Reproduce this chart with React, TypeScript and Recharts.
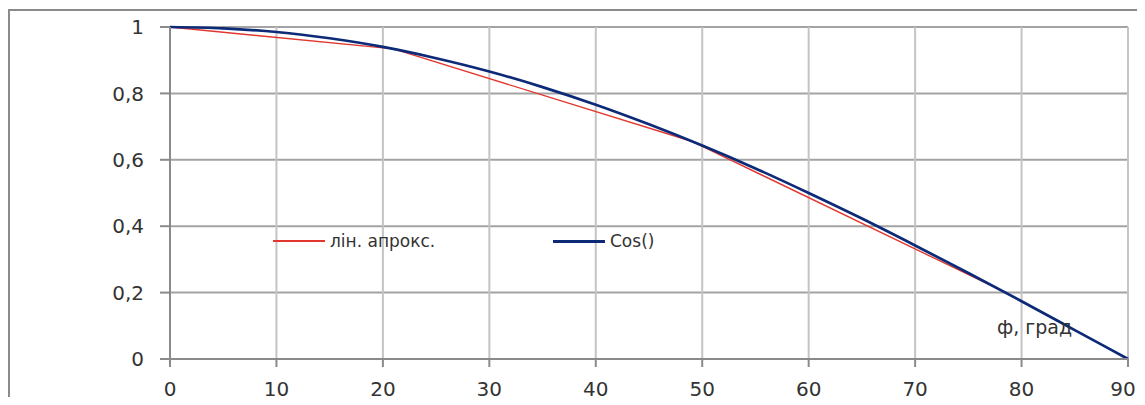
import { LineChart, Line, XAxis, YAxis, CartesianGrid, Legend } from "recharts"

// cos() read every 5 degrees
const angles = [0, 5, 10, 15, 20, 25, 30, 35, 40, 45, 50, 55, 60, 65, 70, 75, 80, 85, 90]
const cosValues = [
  1, 0.996, 0.985, 0.966, 0.94, 0.906, 0.866, 0.819, 0.766, 0.707, 0.643, 0.574, 0.5, 0.423, 0.342,
  0.259, 0.174, 0.087, 0,
]

// piecewise linear approximation nodes
const approxAngles = [0, 21, 49, 78, 90]
const approxValues = [1, 0.934, 0.656, 0.208, 0]

const xTicks = [0, 10, 20, 30, 40, 50, 60, 70, 80, 90]
const yTicks = [0, 0.2, 0.4, 0.6, 0.8, 1]

const SERIES = [
  { key: "approx", label: "лін. апрокс.", color: "#e2372e", width: 1.4 },
  { key: "cos", label: "Cos()", color: "#0c2a78", width: 2.7 },
] as const

const cosData = angles.map((a, i) => ({ x: a, y: cosValues[i] }))
const approxData = approxAngles.map((a, i) => ({ x: a, y: approxValues[i] }))

const FONT = "'DejaVu Sans', sans-serif"
const TEXT = "#333"

function LegendBox() {
  return (
    <div style={{ position: "relative", width: 420, height: 20, fontFamily: FONT, fontSize: 17, color: TEXT }}>
      {SERIES.map((s, i) => (
        <div
          key={s.key}
          style={{ position: "absolute", left: i * 280, top: 0, display: "flex", alignItems: "center", height: 20 }}
        >
          <div style={{ width: 52, height: s.key === "cos" ? 3 : 2, background: s.color }} />
          <span style={{ marginLeft: 5, whiteSpace: "nowrap" }}>{s.label}</span>
        </div>
      ))}
    </div>
  )
}

// last label nudged left so it is not cut at the page edge
function XTick(props: any) {
  const { x, y, payload } = props
  const last = payload.value === xTicks[xTicks.length - 1]
  return (
    <text x={last ? x - 5 : x} y={y} dy="0.71em" textAnchor="middle" fill={TEXT} fontSize={20}>
      {payload.value}
    </text>
  )
}

export default function App() {
  return (
    <div style={{ position: "relative", width: 1137, height: 389 }}>
      <style>{"html { overflow: hidden; }"}</style>
      <div
        style={{
          position: "absolute",
          left: 0,
          top: 1,
          width: 1137,
          height: 396,
          boxSizing: "border-box",
          borderTop: "2px solid #8a8a8a",
          borderLeft: "2px solid #8a8a8a",
        }}
      />
      <LineChart
        width={1137}
        height={397}
        margin={{ top: 19, right: 17, left: 0, bottom: 0 }}
        style={{ position: "absolute", left: 0, top: 0, fontFamily: FONT }}
      >
        <CartesianGrid vertical={false} stroke="#a3a3a3" strokeWidth={2} />
        <CartesianGrid horizontal={false} stroke="#c4c4c4" strokeWidth={2} />
        <XAxis
          dataKey="x"
          type="number"
          domain={[0, 90]}
          ticks={xTicks}
          height={46}
          tickSize={8}
          tickMargin={15}
          stroke="#8a8a8a"
          strokeWidth={2}
          tick={<XTick />}
          allowDuplicatedCategory={false}
        />
        <YAxis
          type="number"
          domain={[0, 1]}
          ticks={yTicks}
          width={162}
          tickSize={10}
          tickMargin={16}
          stroke="#8a8a8a"
          strokeWidth={2}
          tick={{ fill: TEXT, fontSize: 20 }}
          tickFormatter={(v: number) => String(v).replace(".", ",")}
        />
        <Line
          data={approxData}
          dataKey="y"
          name={SERIES[0].label}
          type="linear"
          stroke={SERIES[0].color}
          strokeWidth={SERIES[0].width}
          dot={false}
          isAnimationActive={false}
        />
        <Line
          data={cosData}
          dataKey="y"
          name={SERIES[1].label}
          type="monotone"
          stroke={SERIES[1].color}
          strokeWidth={SERIES[1].width}
          dot={false}
          isAnimationActive={false}
        />
        <Legend
          layout="horizontal"
          verticalAlign="middle"
          align="center"
          content={() => <LegendBox />}
          wrapperStyle={{ position: "absolute", left: 265, top: 223, width: 420, height: 20 }}
        />
      </LineChart>
      <div
        style={{
          position: "absolute",
          left: 989,
          top: 308,
          fontFamily: FONT,
          fontSize: 19,
          color: TEXT,
          whiteSpace: "nowrap",
          pointerEvents: "none",
        }}
      >
        ф, град
      </div>
    </div>
  )
}
